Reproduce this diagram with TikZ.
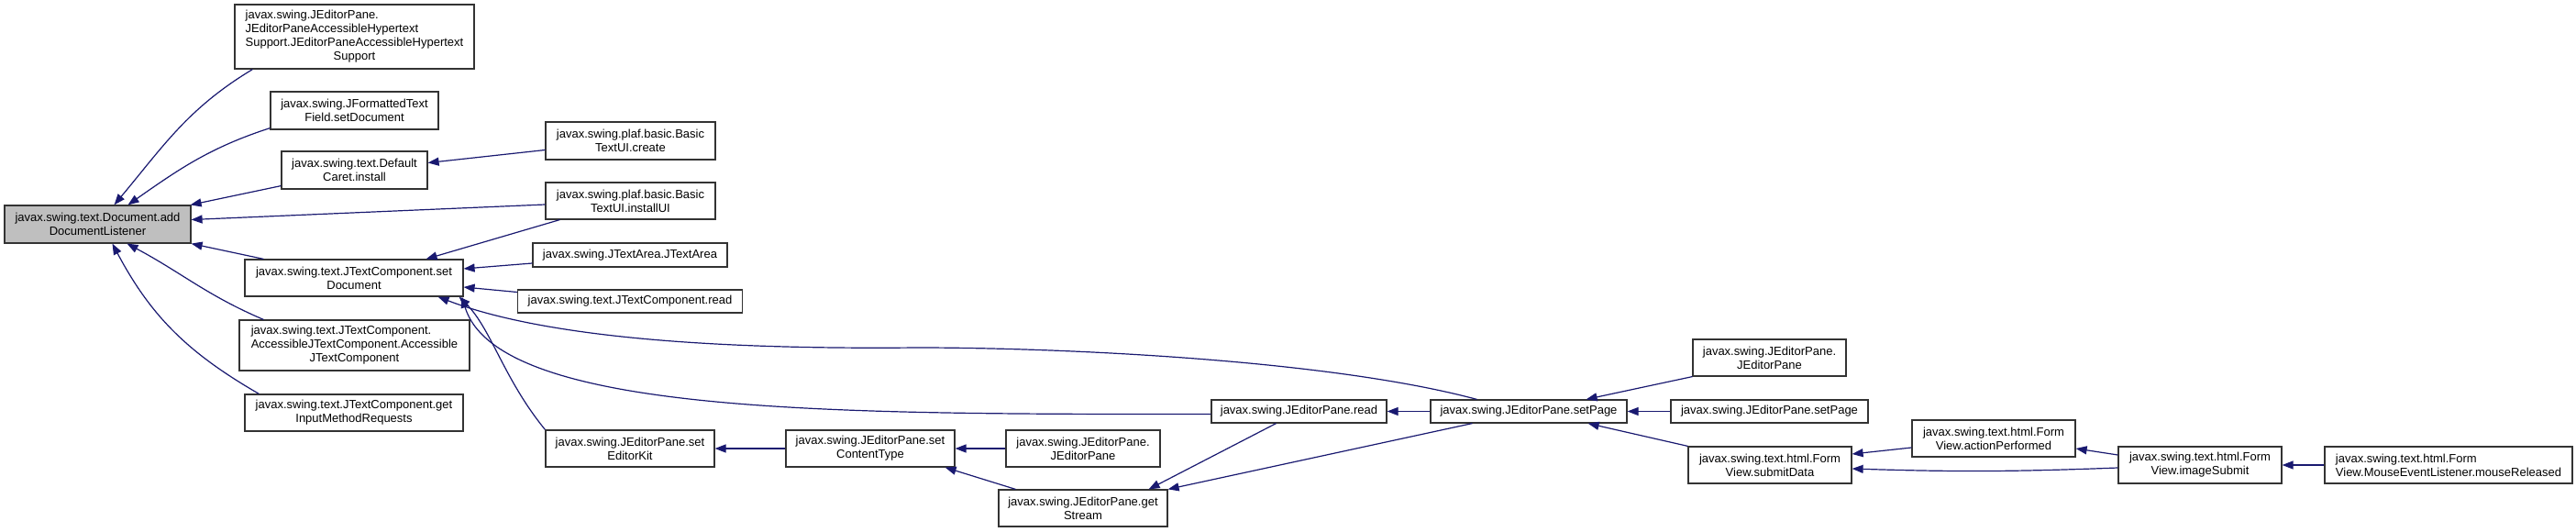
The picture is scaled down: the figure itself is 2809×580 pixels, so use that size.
\documentclass[tikz,border=0pt]{standalone}
\usepackage{fontspec}
\setmainfont{Liberation Sans}
\usetikzlibrary{arrows.meta, positioning}
\definecolor{callblue}{HTML}{191970}
\definecolor{boxline}{HTML}{333333}
\definecolor{rootgrey}{HTML}{BFBFBF}
\tikzset{
  fn/.style    = {draw=boxline, line width=1.2pt, fill=white, align=center,
                  font=\fontsize{13}{15}\selectfont, inner sep=2pt,
                  minimum height=26},
  fnn/.style   = {fn, minimum height=41},
  focus/.style = {fnn, fill=rootgrey},
  call/.style  = {-{Triangle[length=12pt,width=9pt]}, line width=1.2pt, callblue},
}

\begin{document}
\begin{tikzpicture}[x=1pt, y=1pt]

  \fill[white] (0,0) rectangle (2809,-580);
  \useasboundingbox (0,0) rectangle (2809,-580);

  % the documented method
  \node[focus, minimum width=203] (adddl) at (106.5,-244.5)
    {javax.swing.text.Document.add\\DocumentListener};

  % direct callers
  \node[fn, minimum width=261, minimum height=70] (hyper) at (386.5,-40)
    {\begin{tabular}{@{}l@{}}javax.swing.JEditorPane.\\JEditorPaneAccessibleHypertext\\
     Support.JEditorPaneAccessibleHypertext\\\multicolumn{1}{@{}c@{}}{Support}\end{tabular}};
  \node[fnn, minimum width=183] (ftfset) at (386.5,-120.5)
    {javax.swing.JFormattedText\\Field.setDocument};
  \node[fnn, minimum width=159] (caret) at (386.5,-185.5)
    {javax.swing.text.Default\\Caret.install};
  \node[fnn, minimum width=238, minimum height=40] (setdoc) at (386,-303)
    {javax.swing.text.JTextComponent.set\\Document};
  \node[fn, minimum width=251, minimum height=55] (accjtc) at (386.5,-376.5)
    {\begin{tabular}{@{}l@{}}javax.swing.text.JTextComponent.\\
     \multicolumn{1}{@{}c@{}}{AccessibleJTextComponent.Accessible}\\
     \multicolumn{1}{@{}c@{}}{JTextComponent}\end{tabular}};
  \node[fnn, minimum width=238, minimum height=40] (imreq) at (386,-450)
    {javax.swing.text.JTextComponent.get\\InputMethodRequests};

  % second column
  \node[fnn, minimum width=185] (uicreate) at (687.5,-153.5)
    {javax.swing.plaf.basic.Basic\\TextUI.create};
  \node[fnn, minimum width=185, minimum height=40] (uiinstall) at (687.5,-219)
    {javax.swing.plaf.basic.Basic\\TextUI.installUI};
  \node[fn, minimum width=212] (textarea) at (687,-278)
    {javax.swing.JTextArea.JTextArea};
  \node[fn, minimum width=245, minimum height=25] (jtcread) at (687,-328.5)
    {javax.swing.text.JTextComponent.read};
  \node[fnn, minimum width=184, minimum height=40] (editorkit) at (687,-489)
    {javax.swing.JEditorPane.set\\EditorKit};

  % JEditorPane chain
  \node[fnn, minimum width=184, minimum height=40] (ctype) at (949,-489)
    {javax.swing.JEditorPane.set\\ContentType};
  \node[fnn, minimum width=168, minimum height=40] (epctor) at (1181,-489)
    {javax.swing.JEditorPane.\\JEditorPane};
  \node[fnn, minimum width=184, minimum height=40] (stream) at (1181,-554)
    {javax.swing.JEditorPane.get\\Stream};
  \node[fn, minimum width=191, minimum height=25] (epread) at (1416.5,-448.5)
    {javax.swing.JEditorPane.read};
  \node[fn, minimum width=214, minimum height=25] (setpage) at (1667,-448.5)
    {javax.swing.JEditorPane.setPage};

  % callers of setPage
  \node[fnn, minimum width=167, minimum height=40] (epctortwo) at (1929.5,-390)
    {javax.swing.JEditorPane.\\JEditorPane};
  \node[fn, minimum width=215, minimum height=25] (setpagetwo) at (1929.5,-448.5)
    {javax.swing.JEditorPane.setPage};
  \node[fnn, minimum width=178, minimum height=40] (submit) at (1930,-507)
    {javax.swing.text.html.Form\\View.submitData};

  % form view
  \node[fnn, minimum width=178, minimum height=40] (action) at (2174,-478)
    {javax.swing.text.html.Form\\View.actionPerformed};
  \node[fnn, minimum width=178, minimum height=40] (imgsubmit) at (2399,-507)
    {javax.swing.text.html.Form\\View.imageSubmit};
  \node[fnn, minimum width=270, minimum height=40, align=left] (released) at (2670,-507)
    {javax.swing.text.html.Form\\View.MouseEventListener.mouseReleased};

  % calls into addDocumentListener
  \draw[call] ([xshift=20]hyper.south west) to[out=211, in=50] ([xshift=18]adddl.north);
  \draw[call] ([yshift=2]ftfset.south west) to[out=198, in=35] ([xshift=33]adddl.north);
  \draw[call] ([yshift=4]caret.south west) -- ([xshift=-1]adddl.north east);
  \draw[call] ([yshift=-4]uiinstall.west) -- ([yshift=5]adddl.east);
  \draw[call] ([xshift=21]setdoc.north west) -- (adddl.south east);
  \draw[call] ([xshift=27]accjtc.north west) to[out=157, in=-28] ([xshift=32]adddl.south);
  \draw[call] ([xshift=16]imreq.north west) to[out=150, in=-62] ([xshift=16]adddl.south);

  % second column
  \draw[call] ([yshift=-10]uicreate.west) -- ([yshift=8]caret.east);
  \draw[call] ([xshift=16]uiinstall.south west) -- ([xshift=-41]setdoc.north east);
  \draw[call] ([yshift=-9]textarea.west) -- ([yshift=10]setdoc.east);
  \draw[call] ([yshift=10]jtcread.west) -- ([yshift=-10]setdoc.east);
  \coordinate (sag) at (1000,-379);
  \draw[call] ([xshift=51]setpage.north west) .. controls +(-164,44) and +(150,0) .. (sag)
    .. controls +(-200,-2) and +(123,-47) .. ([xshift=-28]setdoc.south east);
  \draw[call] ([yshift=-3]epread.west) .. controls +(-400,0) and +(40,-130)
    .. ([xshift=-2]setdoc.south east);
  \draw[call] (editorkit.north west) .. controls +(-45,55) and +(35,-35)
    .. ([xshift=-5]setdoc.south east);

  % JEditorPane chain
  \draw[call] (ctype) -- (editorkit);
  \draw[call] (epctor) -- (ctype);
  \draw[call] ([xshift=19]stream.north west) -- ([xshift=-11]ctype.south east);
  \draw[call] ([xshift=-25]epread.south) -- ([xshift=-21]stream.north east);
  \draw[call] ([xshift=46]setpage.south west) -- (stream.north east);
  \draw[call] (setpage) -- (epread);

  % callers of setPage
  \draw[call] (epctortwo.south west) -- ([xshift=-45]setpage.north east);
  \draw[call] (setpagetwo) -- (setpage);
  \draw[call] (submit.north west) -- ([xshift=-43]setpage.south east);

  % form view
  \draw[call] ([yshift=-10]action.west) -- ([yshift=12]submit.east);
  \draw[call] ([yshift=-3]imgsubmit.west) to[bend left=2] ([yshift=-4]submit.east);
  \draw[call] ([yshift=11]imgsubmit.west) -- ([yshift=-11]action.east);
  \draw[call] (released) -- (imgsubmit);

\end{tikzpicture}
\end{document}
